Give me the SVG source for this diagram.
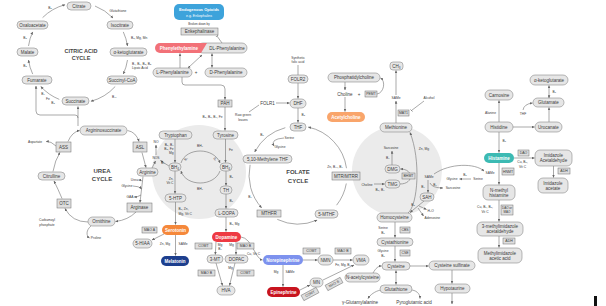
<svg xmlns="http://www.w3.org/2000/svg" width="606" height="306" viewBox="0 0 606 306">
<style>
text{font-family:"Liberation Sans","DejaVu Sans",Arial,sans-serif;fill:#3a3a3a;text-anchor:middle;dominant-baseline:central}
.p{fill:#e6e6e6;stroke:#8a8a8a;stroke-width:.6}
.b{fill:#dedede;stroke:#6e6e6e;stroke-width:.5}
.n{font-size:4.5px}
.bt{font-size:3.5px}
.s{font-size:3.3px}
.ls{font-size:3.3px;text-anchor:start}
.le{font-size:3.3px;text-anchor:end}
.w{fill:#fff;font-weight:bold;font-size:4.5px}
.h{font-size:6px;font-weight:bold;fill:#454545}
.c path{fill:none;stroke:#707070;stroke-width:.6}
.bg{fill:#ebebeb}
</style>
<defs>
<marker id="ar" viewBox="0 0 6 6" refX="5.5" refY="3" markerWidth="3" markerHeight="3" markerUnits="userSpaceOnUse" orient="auto-start-reverse"><path d="M0,0.4 L6,3 L0,5.6 z" fill="#666"/></marker>
<marker id="tb" viewBox="0 0 2 6" refX="1" refY="3" markerWidth="1" markerHeight="4" markerUnits="userSpaceOnUse" orient="auto"><path d="M1,0 L1,6" stroke="#666" stroke-width="1.2"/></marker>
</defs>
<rect width="606" height="306" fill="#fff"/>
<circle class="bg" cx="199" cy="172" r="47"/>
<circle class="bg" cx="397" cy="171" r="45"/>

<g class="c" id="connectors">
<!-- citric acid cycle -->
<path d="M95,6 A50,50 0 0 1 113,18" marker-end="url(#ar)"/>
<path d="M123.3,31.9 A50,50 0 0 1 127.5,46" marker-end="url(#ar)"/>
<path d="M127.5,60 A50,50 0 0 1 123.3,74" marker-end="url(#ar)"/>
<path d="M115.2,86.5 A50,50 0 0 1 90.9,101.3" marker-end="url(#ar)"/>
<path d="M59.3,99.4 A50,50 0 0 1 40.8,86.5" marker-end="url(#ar)"/>
<path d="M32.7,74.1 A50,50 0 0 1 28.5,60" marker-end="url(#ar)"/>
<path d="M28.5,46 A50,50 0 0 1 32.7,31.9" marker-end="url(#ar)"/>
<path d="M42.6,17.6 A50,50 0 0 1 65.1,4.7" marker-end="url(#ar)"/>
<path d="M78,126 L78,118 Q78,115 75,115 L40,115 Q36,115 36,111 L36,86" marker-end="url(#ar)"/>
<path d="M78,118 L78,106.5" marker-end="url(#ar)"/>
<!-- urea cycle -->
<path d="M62,198.5 Q58,189 54,181" marker-end="url(#ar)"/>
<path d="M53,171.5 Q55,160 60,152.5" marker-end="url(#ar)"/>
<path d="M68,141.5 Q72,132 79.5,130.5" marker-end="url(#ar)"/>
<path d="M127.5,130.5 Q136,132 139,141.5" marker-end="url(#ar)"/>
<path d="M142,152.5 L146,167.5" marker-end="url(#ar)"/>
<path d="M143,176.5 L140,202.5" marker-end="url(#ar)"/>
<path d="M142.3,181 Q141,180 138.5,180" marker-end="url(#ar)"/>
<path d="M133,186 Q139,186 141.6,189" marker-end="url(#ar)"/>
<path d="M141,195 Q138,197 134,197" marker-end="url(#ar)"/>
<path d="M136,212 Q128,220 115.5,221.5" marker-end="url(#ar)"/>
<path d="M88,222 Q72,222 65,208.5" marker-end="url(#ar)"/>
<path d="M91,226 C86,230 86,236 89.5,238" marker-end="url(#ar)"/>
<path d="M56,146 Q51,141 46,141.5" marker-end="url(#ar)"/>
<path d="M152,168 L155.5,161" marker-end="url(#ar)"/>
<path d="M156,155 L156,145" marker-end="url(#ar)"/>
<path d="M169,166 Q164,163 160.5,160.5" marker-end="url(#ar)"/>
<!-- tryptophan / serotonin -->
<path d="M175,139 L175,162.5" marker-end="url(#ar)"/>
<path d="M175,171 L175,193.5" marker-end="url(#ar)"/>
<path d="M175.5,202 L175.5,224.5" marker-end="url(#ar)"/>
<path d="M164,234 L152,240" marker-end="url(#ar)"/>
<path d="M175.5,235 L175.5,255.5" marker-end="url(#ar)"/>
<!-- BH4 cycle -->
<path d="M181,163 C186,147 214,147 220,163" marker-end="url(#ar)"/>
<path d="M220,171 C214,187 186,187 181,171" marker-end="url(#ar)"/>
<!-- phenylalanine -->
<path d="M222,43 L217,36" marker-end="url(#tb)"/>
<path d="M188,68 L202,55" marker-start="url(#ar)" marker-end="url(#ar)"/>
<path d="M212,67.5 L212,53.5" marker-start="url(#ar)" marker-end="url(#ar)"/>
<path d="M180,68 L180,53.5" marker-end="url(#ar)"/>
<path d="M182,77 L182,82 Q182,85 185,85 L221,85 Q225,85 225,89 L225,99.5" marker-end="url(#ar)"/>
<!-- tyrosine / catecholamines -->
<path d="M225,107 L225,130.5" marker-end="url(#ar)"/>
<path d="M225.5,139 L225.5,162.5" marker-end="url(#ar)"/>
<path d="M226,171 L226,185.5" marker-end="url(#ar)"/>
<path d="M226,194 L226,208.5" marker-end="url(#ar)"/>
<path d="M226,217 L226,231.5" marker-end="url(#ar)"/>
<path d="M216,242 L215.3,254.5" marker-end="url(#ar)"/>
<path d="M236,242 L236,254.5" marker-end="url(#ar)"/>
<path d="M216,263 L222.5,285.5" marker-end="url(#ar)"/>
<path d="M235,263 L229.5,285.5" marker-end="url(#ar)"/>
<path d="M241,237 C252,238 255,259 262.5,260" marker-end="url(#ar)"/>
<path d="M283,265 L283,286.5" marker-end="url(#ar)"/>
<path d="M303,260 L317.5,260" marker-end="url(#ar)"/>
<path d="M333,260 L352.5,260" marker-end="url(#ar)"/>
<path d="M300,290 L310,285" marker-end="url(#ar)"/>
<path d="M323,280 L354,265" marker-end="url(#ar)"/>
<!-- folate -->
<path d="M249,112 L259,105"/>
<path d="M276,103 L289.5,103" marker-end="url(#ar)"/>
<path d="M298,65 L298,75"/>
<path d="M298,83 L298,98.5" marker-end="url(#ar)"/>
<path d="M298,108 L298,122.5" marker-end="url(#ar)"/>
<path d="M285.3,127.7 A49,49 0 0 0 254.7,152" marker-end="url(#ar)"/>
<path d="M250.1,164.8 A49,49 0 0 0 261.6,207.8" marker-end="url(#ar)"/>
<path d="M277.3,219.4 A49,49 0 0 0 317.1,220.1" marker-end="url(#ar)"/>
<path d="M336.6,205.2 A49,49 0 0 0 346.3,183.5"/>
<path d="M346.5,168.2 A49,49 0 0 0 308.2,127.1" marker-end="url(#ar)"/>
<path d="M284,138 Q270,139 274,146" marker-end="url(#ar)"/>
<!-- methionine / choline -->
<path d="M345,82 L345,90" marker-end="url(#ar)"/>
<path d="M345,97 L345,111.5" marker-end="url(#ar)"/>
<path d="M377,94 C384,93 386,81 380.5,78" marker-end="url(#ar)"/>
<path d="M396,95 L396,70.5" marker-end="url(#ar)"/>
<path d="M396,123 L396,101" marker-end="url(#ar)"/>
<path d="M424,101 L411.5,110.5" marker-end="url(#tb)"/>
<path d="M392,165 L392,151" marker-end="url(#ar)"/>
<path d="M400,184 C414,184 414,169 400.5,169" marker-end="url(#ar)"/>
<path d="M374,184 L384.5,184" marker-end="url(#ar)"/>
<path d="M408,213 C418,205 421,160 410,132.5" marker-end="url(#ar)"/>
<path d="M428,180 L428,192.5" marker-end="url(#ar)"/>
<path d="M430,183 Q432,188 443,188" marker-end="url(#ar)"/>
<path d="M471,179 L459.5,179" marker-end="url(#ar)"/>
<path d="M434,174 C450,163 475,163 484,171" marker-end="url(#ar)"/>
<path d="M424,201 L410,212.5" marker-end="url(#ar)"/>
<path d="M419,206 L426.5,209.5" marker-end="url(#ar)"/>
<path d="M418,208 L423.5,216" marker-end="url(#ar)"/>
<path d="M395,222 L395,237.5" marker-end="url(#ar)"/>
<path d="M395,246 L395,261.5" marker-end="url(#ar)"/>
<path d="M396,270.5 L396,284.5" marker-start="url(#ar)" marker-end="url(#ar)"/>
<path d="M381,290 C375,291 370,295 368,298.5" marker-end="url(#ar)"/>
<path d="M412,290 C418,291 420,295 420,298.5" marker-end="url(#ar)"/>
<path d="M373,273 C376,268 378,266 381.5,266" marker-end="url(#ar)"/>
<path d="M410,266 L428.5,266" marker-end="url(#ar)"/>
<path d="M452,270 L452,283.5" marker-end="url(#ar)"/>
<path d="M452,293 L452,304" marker-end="url(#ar)"/>
<!-- histamine -->
<path d="M499,122 L499,100.5" marker-end="url(#ar)"/>
<path d="M523,110 Q524,104 532.5,103" marker-end="url(#ar)"/>
<path d="M513,127 L534.5,127" marker-end="url(#ar)"/>
<path d="M549,122 L549,107.5" marker-end="url(#ar)"/>
<path d="M549,98 L549,85.5" marker-start="url(#ar)" marker-end="url(#ar)"/>
<path d="M499,132 L499,152.5" marker-end="url(#ar)"/>
<path d="M514,158 L534.5,158" marker-end="url(#ar)"/>
<path d="M553.5,166 L553.5,177.5" marker-end="url(#ar)"/>
<path d="M499,163 L499,184.5" marker-end="url(#ar)"/>
<path d="M499,200 L499,221.5" marker-end="url(#ar)"/>
<path d="M499,236 L499,247.5" marker-end="url(#ar)"/>
</g>

<!-- citric acid cycle nodes -->
<g id="citrate"><rect class="p" x="67" y="2" width="24" height="8" rx="4"/><text class="n" x="79" y="6">Citrate</text></g>
<g id="oxaloacetate"><rect class="p" x="17" y="21" width="31" height="8" rx="4"/><text class="n" x="32.5" y="25">Oxaloacetate</text></g>
<g id="isocitrate"><rect class="p" x="107" y="21" width="26" height="8" rx="4"/><text class="n" x="120" y="25">Isocitrate</text></g>
<g id="malate"><rect class="p" x="17" y="48" width="21" height="8" rx="4"/><text class="n" x="27.5" y="52">Malate</text></g>
<g id="akg1"><rect class="p" x="110" y="48" width="37" height="8" rx="4"/><text class="n" x="128.5" y="52">α-ketoglutarate</text></g>
<g id="fumarate"><rect class="p" x="22" y="76" width="30" height="8" rx="4"/><text class="n" x="37" y="80">Fumarate</text></g>
<g id="succinylcoa"><rect class="p" x="107" y="76" width="30" height="8" rx="4"/><text class="n" x="122" y="80">Succinyl-CoA</text></g>
<g id="succinate"><rect class="p" x="62" y="97" width="27" height="8" rx="4"/><text class="n" x="75.5" y="101">Succinate</text></g>

<!-- urea cycle nodes -->
<g id="argininosuccinate"><rect class="p" x="80" y="126" width="47" height="9" rx="4.5"/><text class="n" x="103.5" y="130.5">Argininosuccinate</text></g>
<g id="ass"><rect class="b" x="56" y="142" width="15" height="10"/><text class="n" x="63.5" y="147">ASS</text></g>
<g id="asl"><rect class="b" x="133" y="142" width="14" height="10"/><text class="n" x="140" y="147">ASL</text></g>
<g id="citrulline"><rect class="p" x="38" y="172" width="27" height="8" rx="4"/><text class="n" x="51.5" y="176">Citrulline</text></g>
<g id="otc"><rect class="b" x="57" y="199" width="14" height="9"/><text class="n" x="64" y="203.5">OTC</text></g>
<g id="arginine"><rect class="p" x="137" y="168" width="21" height="8" rx="4"/><text class="n" x="147.5" y="172">Arginine</text></g>
<g id="arginase"><rect class="b" x="127" y="203" width="25" height="9"/><text class="n" x="139.5" y="207.5">Arginase</text></g>
<g id="ornithine"><rect class="p" x="88" y="217" width="27" height="9" rx="4.5"/><text class="n" x="101.5" y="221.5">Ornithine</text></g>

<!-- tryptophan / serotonin -->
<g id="tryptophan"><rect class="p" x="159" y="131" width="33" height="8" rx="4"/><text class="n" x="175.5" y="135">Tryptophan</text></g>
<g id="bh4-left"><rect class="p" x="169" y="163" width="12" height="8" rx="4"/><text class="n" x="175" y="167">BH₄</text></g>
<g id="htp"><rect class="p" x="165" y="194" width="21" height="8" rx="4"/><text class="n" x="175.5" y="198">5-HTP</text></g>
<g id="serotonin"><rect x="162" y="225" width="27" height="10" rx="5" fill="#F5883B"/><text class="w" x="175.5" y="230">Serotonin</text></g>
<g id="maoa"><rect class="b" x="142" y="227" width="15" height="6"/><text class="bt" x="149.5" y="230">MAO A</text></g>
<g id="hiaa"><rect class="p" x="133" y="239" width="19" height="9" rx="4.5"/><text class="n" x="142.5" y="243.5">5-HIAA</text></g>
<g id="melatonin"><rect x="161" y="256" width="28" height="10" rx="5" fill="#1D3F8E"/><text class="w" x="175" y="261">Melatonin</text></g>

<!-- phenylalanine / opioids -->
<g id="opioids"><rect x="174" y="4" width="50" height="16" rx="5" fill="#3DA3DB"/><text x="199" y="9.5" style="font-size:4px;font-weight:bold;fill:#fff">Endogenous Opioids</text><text x="199" y="15.5" style="font-size:3.5px;fill:#fff">e.g. Enkephalins</text></g>
<g id="enkephalinase"><rect class="b" x="181" y="28" width="37" height="7"/><text class="n" x="199.5" y="31.5">Enkephalinase</text></g>
<g id="dl-phe"><rect class="p" x="198" y="43" width="49" height="10" rx="5"/><text class="n" x="227" y="48">DL-Phenylalanine</text></g>
<g id="phenylethylamine"><path d="M160,43 L207,43 L201,53 L160,53 A5,5 0 0 1 160,43 Z" fill="#F27178"/><text class="w" x="179" y="48">Phenylethylamine</text></g>
<g id="l-phe"><rect class="p" x="153" y="68" width="39" height="9" rx="4.5"/><text class="n" x="172.5" y="72.5">L-Phenylalanine</text></g>
<g id="d-phe"><rect class="p" x="205" y="68" width="42" height="9" rx="4.5"/><text class="n" x="226" y="72.5">D-Phenylalanine</text></g>
<g id="pah"><rect class="b" x="218" y="100" width="14" height="7"/><text class="n" x="225" y="103.5">PAH</text></g>

<!-- tyrosine / catecholamines -->
<g id="tyrosine"><rect class="p" x="213" y="131" width="25" height="8" rx="4"/><text class="n" x="225.5" y="135">Tyrosine</text></g>
<g id="bh4-right"><rect class="p" x="220" y="163" width="12" height="8" rx="4"/><text class="n" x="226" y="167">BH₄</text></g>
<g id="th"><rect class="p" x="220" y="186" width="12" height="8" rx="4"/><text class="n" x="226" y="190">TH</text></g>
<g id="ldopa"><rect class="p" x="215" y="209" width="23" height="8" rx="4"/><text class="n" x="226.5" y="213">L-DOPA</text></g>
<g id="dopamine"><rect x="212" y="232" width="29" height="10" rx="5" fill="#EE3A43"/><text class="w" x="226.5" y="237">Dopamine</text></g>
<g id="comt1"><rect class="b" x="195" y="243" width="17" height="6"/><text class="bt" x="203.5" y="246">COMT</text></g>
<g id="maob1"><rect class="b" x="237" y="243" width="17" height="6"/><text class="bt" x="245.5" y="246">MAO B</text></g>
<g id="mt3"><rect class="p" x="207" y="255" width="16" height="8" rx="4"/><text class="n" x="215" y="259">3-MT</text></g>
<g id="dopac"><rect class="p" x="225" y="255" width="23" height="8" rx="4"/><text class="n" x="236.5" y="259">DOPAC</text></g>
<g id="maob2"><rect class="b" x="198" y="270" width="17" height="6"/><text class="bt" x="206.5" y="273">MAO B</text></g>
<g id="comt2"><rect class="b" x="237" y="270" width="17" height="6"/><text class="bt" x="245.5" y="273">COMT</text></g>
<g id="hva"><rect class="p" x="217" y="286" width="18" height="9" rx="4.5"/><text class="n" x="226" y="290.5">HVA</text></g>
<g id="norepinephrine"><rect x="263" y="255" width="40" height="10" rx="5" fill="#7D92EE"/><text class="w" x="283" y="260">Norepinephrine</text></g>
<g id="epinephrine"><rect x="267" y="287" width="33" height="10" rx="5" fill="#C8141F"/><text class="w" x="283.5" y="292">Epinephrine</text></g>
<g id="comt3"><rect class="b" x="303" y="248" width="17" height="6"/><text class="bt" x="311.5" y="251">COMT</text></g>
<g id="nmn"><rect class="p" x="318" y="255" width="15" height="10" rx="5"/><text class="n" x="325.5" y="260">NMN</text></g>
<g id="maob3"><rect class="b" x="335" y="248" width="16" height="6"/><text class="bt" x="343" y="251">MAO B</text></g>
<g id="vma"><rect class="p" x="353" y="255" width="16" height="10" rx="5"/><text class="n" x="361" y="260">VMA</text></g>
<g id="mn"><rect class="p" x="310" y="278" width="13" height="9" rx="4.5"/><text class="n" x="316.5" y="282.5">MN</text></g>
<g id="comt4" transform="rotate(-28 310 294)"><rect class="b" x="301.5" y="291" width="17" height="6"/><text class="bt" x="310" y="294">COMT</text></g>
<g id="maob4" transform="rotate(-28 334 284)"><rect class="b" x="325.5" y="281" width="17" height="6"/><text class="bt" x="334" y="284">MAO B</text></g>

<!-- folate -->
<g id="folr1"><text class="n" x="267.5" y="103">FOLR1</text></g>
<g id="synthetic-folic"><text class="s" x="298" y="58">Synthetic</text><text class="s" x="298" y="62">folic acid</text></g>
<g id="folr2"><rect class="p" x="288" y="75" width="20" height="8" rx="4"/><text class="n" x="298" y="79">FOLR2</text></g>
<g id="dhf"><rect class="p" x="290" y="99" width="16" height="9" rx="4.5"/><text class="n" x="298" y="103.5">DHF</text></g>
<g id="thf"><rect class="p" x="290" y="123" width="16" height="8" rx="4"/><text class="n" x="298" y="127">THF</text></g>
<g id="methylene-thf"><rect class="p" x="243" y="155" width="49" height="8" rx="4"/><text class="n" x="267.5" y="159">5,10-Methylene THF</text></g>
<g id="mthfr"><rect class="b" x="257" y="210" width="24" height="7"/><text class="n" x="269" y="213.5">MTHFR</text></g>
<g id="mthf"><rect class="p" x="315" y="210" width="23" height="8" rx="4"/><text class="n" x="326.5" y="214">5-MTHF</text></g>
<g id="mtr"><rect class="b" x="332" y="172" width="28" height="8"/><text class="n" x="346" y="176">MTR/MTRR</text></g>

<!-- methionine / choline -->
<g id="phosphatidylcholine"><rect class="p" x="328" y="73" width="52" height="9" rx="4.5"/><text class="n" x="354" y="77.5">Phosphatidylcholine</text></g>
<g id="choline"><text class="n" x="345" y="94">Choline</text><text class="n" x="359" y="94">+</text></g>
<g id="pemt"><rect class="b" x="365" y="91" width="12" height="6"/><text class="bt" x="371" y="94">PEMT</text></g>
<g id="ch3"><rect class="p" x="390" y="62" width="13" height="8" rx="3"/><text class="n" x="396.5" y="66">CH₃</text></g>
<g id="same1"><text class="s" x="396" y="98">SAMe</text></g>
<g id="acetylcholine"><rect x="327" y="112" width="38" height="10" rx="5" fill="#F9A56B"/><text class="w" x="346" y="117">Acetylcholine</text></g>
<g id="mat1"><rect class="b" x="398" y="110" width="11" height="6"/><text class="bt" x="403.5" y="113">MAT1</text></g>
<g id="alcohol"><text class="s" x="429" y="98">Alcohol</text></g>
<g id="methionine"><rect class="p" x="380" y="123" width="32" height="9" rx="4.5"/><text class="n" x="396" y="127.5">Methionine</text></g>
<g id="sarcosine1"><text class="s" x="391" y="148">Sarcosine</text></g>
<g id="dmg"><rect class="p" x="385" y="165" width="15" height="8" rx="4"/><text class="n" x="392.5" y="169">DMG</text></g>
<g id="bhmt"><rect class="b" x="402" y="173" width="13" height="6"/><text class="bt" x="408.5" y="176">BHMT</text></g>
<g id="tmg"><rect class="p" x="385" y="180" width="15" height="8" rx="4"/><text class="n" x="392.5" y="184">TMG</text></g>
<g id="choline2"><text class="s" x="367" y="184.5">Choline</text></g>
<g id="same2"><text class="s" x="429" y="177">SAMe</text></g>
<g id="glycine2"><text class="s" x="452" y="179">Glycine</text></g>
<g id="serine2"><text class="s" x="478" y="179">Serine</text></g>
<g id="sarcosine2"><text class="s" x="453" y="188">Sarcosine</text></g>
<g id="same3"><text class="s" x="490" y="173">SAMe</text></g>
<g id="sah"><rect class="p" x="420" y="193" width="14" height="8" rx="4"/><text class="n" x="427" y="197">SAH</text></g>
<g id="h2o"><text class="ls" x="427.5" y="211">H₂O</text></g>
<g id="adenosine"><text class="ls" x="424.5" y="218">Adenosine</text></g>
<g id="homocysteine"><rect class="p" x="377" y="213" width="35" height="9" rx="4.5"/><text class="n" x="394.5" y="217.5">Homocysteine</text></g>
<g id="cbs"><rect class="b" x="400" y="227" width="10" height="6"/><text class="bt" x="405" y="230">CBS</text></g>
<g id="cystathionine"><rect class="p" x="377" y="238" width="36" height="8" rx="4"/><text class="n" x="395" y="242">Cystathionine</text></g>
<g id="cse"><rect class="b" x="400" y="250" width="10" height="6"/><text class="bt" x="405" y="253">CSE</text></g>
<g id="cysteine"><rect class="p" x="382" y="262" width="28" height="8" rx="4"/><text class="n" x="396" y="266">Cysteine</text></g>
<g id="glutathione"><rect class="p" x="380" y="285" width="32" height="8" rx="4"/><text class="n" x="396" y="289">Glutathione</text></g>
<g id="glutamylalanine"><text class="n" x="360" y="302">γ-Glutamylalanine</text></g>
<g id="pyroglutamic"><text class="n" x="414" y="302">Pyroglutamic acid</text></g>
<g id="nac"><rect class="p" x="345" y="273" width="35" height="9" rx="4.5"/><text class="n" x="362.5" y="277.5">N-acetylcysteine</text></g>
<g id="cysteine-sulfinate"><rect class="p" x="429" y="261" width="46" height="9" rx="4.5"/><text class="n" x="452" y="265.5">Cysteine sulfinate</text></g>
<g id="hypotaurine"><rect class="p" x="435" y="284" width="35" height="9" rx="4.5"/><text class="n" x="452.5" y="288.5">Hypotaurine</text></g>

<!-- histamine -->
<g id="carnosine"><rect class="p" x="485" y="90" width="28" height="10" rx="5"/><text class="n" x="499" y="95">Carnosine</text></g>
<g id="akg2"><rect class="p" x="530" y="75" width="38" height="10" rx="5"/><text class="n" x="549" y="80">α-ketoglutarate</text></g>
<g id="glutamate"><rect class="p" x="533" y="98" width="31" height="9" rx="4.5"/><text class="n" x="548.5" y="102.5">Glutamate</text></g>
<g id="histidine"><rect class="p" x="485" y="122" width="28" height="10" rx="5"/><text class="n" x="499" y="127">Histidine</text></g>
<g id="urocanate"><rect class="p" x="535" y="122" width="27" height="10" rx="5"/><text class="n" x="548.5" y="127">Urocanate</text></g>
<g id="histamine"><rect x="484" y="153" width="30" height="10" rx="5" fill="#3CBAB3"/><text class="w" x="499" y="158">Histamine</text></g>
<g id="dao"><rect class="b" x="518" y="150" width="11" height="6"/><text class="bt" x="523.5" y="153">DAO</text></g>
<g id="imidazole-acetaldehyde"><rect class="p" x="535" y="150" width="37" height="16" rx="5"/><text class="n" x="553.5" y="155.5">Imidazole</text><text class="n" x="553.5" y="160.5">Acetaldehyde</text></g>
<g id="adh1"><rect class="b" x="558" y="168" width="12" height="6"/><text class="bt" x="564" y="171">ADH</text></g>
<g id="imidazole-acetate"><rect class="p" x="538" y="178" width="30" height="15" rx="5"/><text class="n" x="553" y="183">Imidazole</text><text class="n" x="553" y="188">acetate</text></g>
<g id="hnmt"><rect class="b" x="502" y="168" width="12" height="7"/><text class="bt" x="508" y="171.5">HNMT</text></g>
<g id="n-methylhistamine"><rect class="p" x="483" y="185" width="32" height="15" rx="5"/><text class="n" x="499" y="190">N-methyl</text><text class="n" x="499" y="195">histamine</text></g>
<g id="dao-mao"><rect class="b" x="501" y="205" width="12" height="10"/><text x="507" y="208" style="font-size:3px">DAO or</text><text x="507" y="212.2" style="font-size:3px">MAO</text></g>
<g id="methylimidazole-acetaldehyde"><rect class="p" x="477" y="222" width="46" height="14" rx="5"/><text class="n" x="500" y="226.7">3-methylimidazole</text><text class="n" x="500" y="231.3">acetaldehyde</text></g>
<g id="adh2"><rect class="b" x="503" y="238" width="12" height="6"/><text class="bt" x="509" y="241">ADH</text></g>
<g id="methylimidazole-acetic"><rect class="p" x="478" y="248" width="44" height="15" rx="5"/><text class="n" x="500" y="253">Methylimidazole</text><text class="n" x="500" y="258">acetic acid</text></g>

<g id="labels">
<text class="h" x="81" y="51" style="font-size:5.5px">CITRIC ACID</text>
<text class="h" x="81" y="58" style="font-size:5.5px">CYCLE</text>
<text class="h" x="102" y="171">UREA</text>
<text class="h" x="102" y="179">CYCLE</text>
<text class="h" x="298" y="172">FOLATE</text>
<text class="h" x="298" y="180.5">CYCLE</text>
<text class="s" x="50" y="8">B₅</text>
<text class="s" x="118" y="11">Glutathione</text>
<text class="ls" x="131" y="38">B₃, Mg, Mn</text>
<text class="ls" x="132" y="64">B₁, B₂, B₃, B₅</text>
<text class="ls" x="132" y="68">Lipoic Acid</text>
<text class="ls" x="112" y="97">B₁₂</text>
<text class="s" x="43" y="94">B₂</text>
<text class="s" x="48" y="99">Fe</text>
<text class="s" x="53" y="103">B₃</text>
<text class="s" x="25" y="66">B₃</text>
<text class="s" x="25" y="38">B₃</text>
<text class="s" x="35" y="142">Aspartate</text>
<text class="le" x="138" y="180">Urea</text>
<text class="le" x="132.5" y="186">Glycine</text>
<text class="le" x="133.5" y="197">GAA</text>
<text class="s" x="47" y="220">Carbamoyl</text>
<text class="s" x="47" y="224.5">phosphate</text>
<text class="s" x="96" y="238">Proline</text>
<text class="s" x="156" y="142">NO</text>
<text class="s" x="156" y="158">NOS</text>
<text class="s" x="163" y="163">B₂</text>
<text class="le" x="173.5" y="145">B₆, B₂</text>
<text class="le" x="173.5" y="149">B₃, Fe</text>
<text class="le" x="173.5" y="153">Mg</text>
<text class="le" x="173.5" y="179">Zn,</text>
<text class="le" x="173.5" y="183">Vit C</text>
<text class="s" x="200" y="146">BH₂</text>
<text class="s" x="200" y="189">BH₂</text>
<text class="s" x="186" y="159" transform="rotate(-55 186 159)">B₂</text>
<text class="s" x="215" y="159" transform="rotate(55 215 159)">B₂</text>
<text class="ls" x="178.5" y="209">B₆, Zn,</text>
<text class="ls" x="178.5" y="213.5">Mg, Vit C</text>
<text class="s" x="165" y="244">Zn, Mg</text>
<text class="s" x="183" y="244">SAMe</text>
<text class="s" x="199" y="24" style="font-size:3px">Broken down by</text>
<text class="n" x="196" y="72.5">+</text>
<text class="le" x="222.5" y="117">B₃, B₆, B₂, Fe</text>
<text class="s" x="243" y="115">Raw green</text>
<text class="s" x="243" y="119.5">leaves</text>
<text class="ls" x="301.5" y="115">B₃</text>
<text class="ls" x="229" y="150">Fe</text>
<text class="ls" x="229.5" y="177">B₆</text>
<text class="ls" x="229.5" y="201">B₆</text>
<text class="ls" x="229.5" y="224">B₆, Mg</text>
<text class="s" x="220" y="245">Mg</text>
<text class="s" x="220" y="249">B₂</text>
<text class="s" x="231.5" y="245">Mg</text>
<text class="s" x="230.5" y="268">Mg</text>
<text class="s" x="253.5" y="254">Cu, Vit C</text>
<text class="s" x="276" y="272">Mg</text>
<text class="s" x="290" y="272">SAMe</text>
<text class="s" x="343" y="265">Fe, Mg, B₂</text>
<text class="s" x="262" y="135">B₆</text>
<text class="ls" x="284.5" y="138">Serine</text>
<text class="s" x="280" y="147">Glycine</text>
<text class="s" x="250" y="197">B₂</text>
<text class="s" x="335" y="167">Zn, B₁₂, B₂</text>
<text class="s" x="424" y="149">Zn, Mg</text>
<text class="le" x="389.5" y="158">B₂</text>
<text class="s" x="380" y="190">B₆, B₂</text>
<text class="s" x="423" y="187">B₂</text>
<text class="s" x="435" y="185">B₂</text>
<text class="s" x="465" y="175">B₆</text>
<text class="s" x="413" y="205">B₃</text>
<text class="s" x="383" y="228">Serine</text>
<text class="s" x="383" y="232.5">B₆</text>
<text class="s" x="383" y="251">Glycine</text>
<text class="s" x="383" y="255.5">B₆</text>
<text class="le" x="496" y="113">Alanine</text>
<text class="s" x="523" y="113.5">THF</text>
<text class="ls" x="552.5" y="91.5">B₆</text>
<text class="ls" x="502.5" y="141">B₆</text>
<text class="s" x="522.5" y="162">Cu, B₆,</text>
<text class="s" x="522.5" y="166.5">Vit C</text>
<text class="s" x="485" y="207">Cu, B₂, B₆,</text>
<text class="s" x="485" y="211.5">Vit C</text>
</g>
<rect x="594" y="296" width="3" height="10" fill="#111"/>
</svg>
